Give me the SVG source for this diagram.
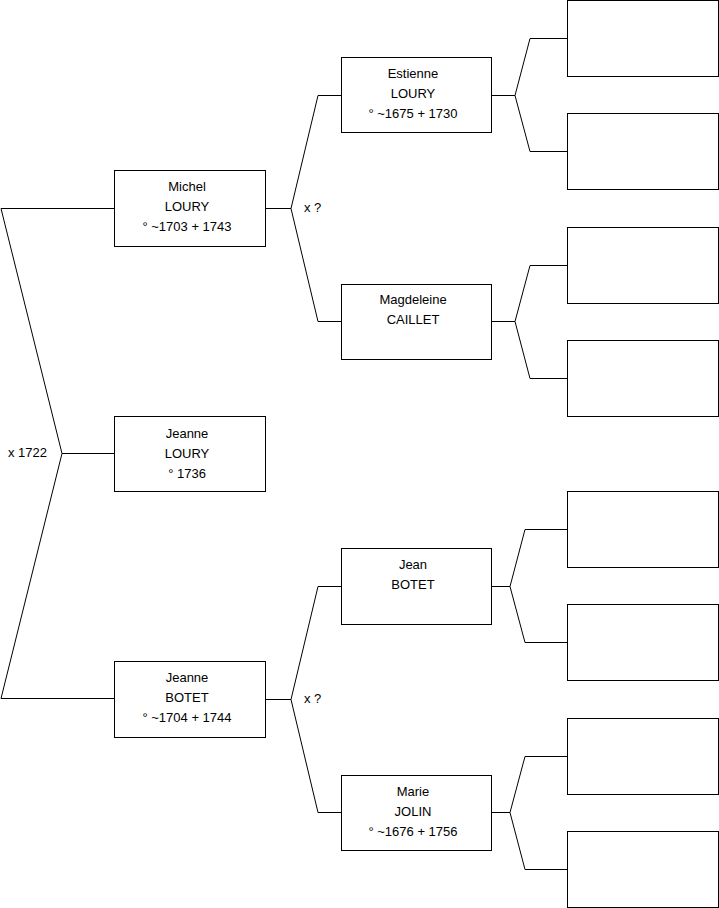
<svg xmlns="http://www.w3.org/2000/svg" width="719" height="908" viewBox="0 0 719 908">
<style>
.box{fill:#fff;stroke:#000;stroke-width:1}
.c{fill:none;stroke:#000;stroke-width:1}
text{font-family:"Liberation Sans",Arial,sans-serif;font-size:13px;fill:#000}
.m{text-anchor:middle}
</style>
<rect width="719" height="908" fill="#fff"/>
<g id="connectors">
<polyline class="c" points="114,208.5 1,208.5 62,453.5 1,698.5 114,698.5"/>
<line class="c" x1="62" y1="453.5" x2="114" y2="453.5"/>
<polyline class="c" points="265,208.5 291,208.5"/>
<polyline class="c" points="341,95.5 318,95.5 291,208.5 318,321.5 341,321.5"/>
<polyline class="c" points="265,699.5 291,699.5"/>
<polyline class="c" points="341,586.5 318,586.5 291,699.5 318,812.5 341,812.5"/>
<polyline class="c" points="491,95.5 515,95.5"/>
<polyline class="c" points="567,38.5 530,38.5 515,95.5 530,151.5 567,151.5"/>
<polyline class="c" points="491,321.5 515,321.5"/>
<polyline class="c" points="567,265.5 530,265.5 515,321.5 530,378.5 567,378.5"/>
<polyline class="c" points="491,586.5 510,586.5"/>
<polyline class="c" points="567,529.5 525,529.5 510,586.5 525,642.5 567,642.5"/>
<polyline class="c" points="491,812.5 510,812.5"/>
<polyline class="c" points="567,756.5 525,756.5 510,812.5 525,869.5 567,869.5"/>
<text x="304" y="212">x ?</text>
<text x="304" y="703">x ?</text>
<text x="8" y="457">x 1722</text>
</g>
<g id="michel">
<rect class="box" x="114.5" y="170.5" width="151" height="76"/>
<text class="m" x="187" y="191">Michel</text>
<text class="m" x="187" y="211">LOURY</text>
<text class="m" x="187" y="231">° ~1703 + 1743</text>
</g>
<g id="jeanne-loury">
<rect class="box" x="114.5" y="416.5" width="151" height="75"/>
<text class="m" x="187" y="438">Jeanne</text>
<text class="m" x="187" y="458">LOURY</text>
<text class="m" x="187" y="478">° 1736</text>
</g>
<g id="jeanne-botet">
<rect class="box" x="114.5" y="661.5" width="151" height="76"/>
<text class="m" x="187" y="682">Jeanne</text>
<text class="m" x="187" y="702">BOTET</text>
<text class="m" x="187" y="722">° ~1704 + 1744</text>
</g>
<g id="estienne">
<rect class="box" x="341.5" y="57.5" width="150" height="75"/>
<text class="m" x="413" y="78">Estienne</text>
<text class="m" x="413" y="98">LOURY</text>
<text class="m" x="413" y="118">° ~1675 + 1730</text>
</g>
<g id="magdeleine">
<rect class="box" x="341.5" y="284.5" width="150" height="75"/>
<text class="m" x="413" y="304">Magdeleine</text>
<text class="m" x="413" y="324">CAILLET</text>
</g>
<g id="jean">
<rect class="box" x="341.5" y="548.5" width="150" height="76"/>
<text class="m" x="413" y="569">Jean</text>
<text class="m" x="413" y="589">BOTET</text>
</g>
<g id="marie">
<rect class="box" x="341.5" y="775.5" width="150" height="75"/>
<text class="m" x="413" y="796">Marie</text>
<text class="m" x="413" y="816">JOLIN</text>
<text class="m" x="413" y="836">° ~1676 + 1756</text>
</g>
<g id="p1"><rect class="box" x="567.5" y="0.5" width="151" height="76"/></g>
<g id="p2"><rect class="box" x="567.5" y="113.5" width="151" height="76"/></g>
<g id="p3"><rect class="box" x="567.5" y="227.5" width="151" height="76"/></g>
<g id="p4"><rect class="box" x="567.5" y="340.5" width="151" height="76"/></g>
<g id="p5"><rect class="box" x="567.5" y="491.5" width="151" height="76"/></g>
<g id="p6"><rect class="box" x="567.5" y="604.5" width="151" height="76"/></g>
<g id="p7"><rect class="box" x="567.5" y="718.5" width="151" height="76"/></g>
<g id="p8"><rect class="box" x="567.5" y="831.5" width="151" height="76"/></g>
</svg>
